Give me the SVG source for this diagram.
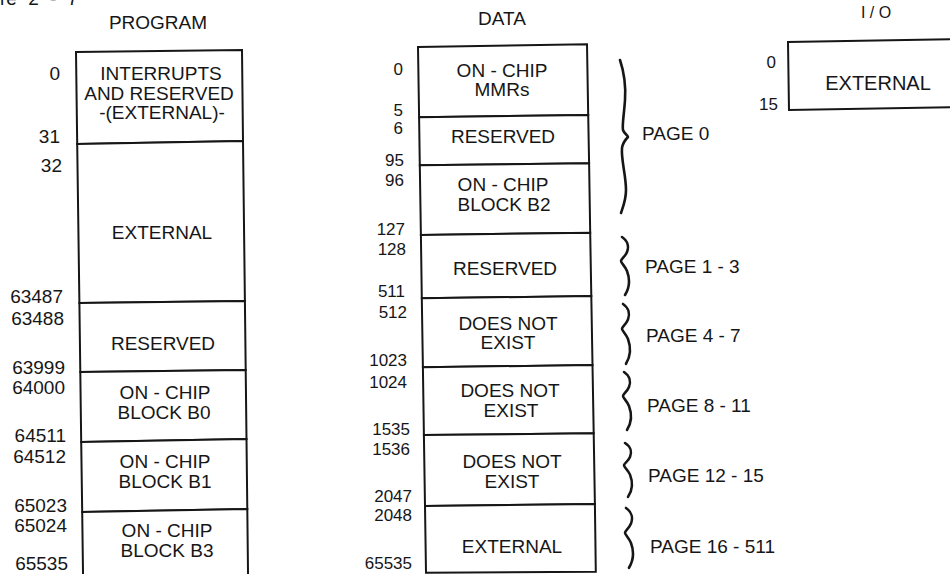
<svg xmlns="http://www.w3.org/2000/svg" width="950" height="574" viewBox="0 0 950 574">
<style>
  text { font-family: "Liberation Sans", Arial, sans-serif; fill: #161616; }
  .t { font-size: 19px; text-anchor: middle; }
  .h { font-size: 19px; text-anchor: middle; }
  .pl { font-size: 19px; text-anchor: end; }
  .dl { font-size: 17px; text-anchor: end; }
  .pg { font-size: 19px; }
  .box { fill: #ffffff; stroke: #161616; stroke-width: 2; stroke-linejoin: miter; }
  .br { fill: none; stroke: #161616; stroke-width: 2.6; stroke-linecap: round; stroke-linejoin: round; }
</style>
<defs>
  <path id="sb" d="M0,0 C6,4 7,10 5,15 C3,20 -1,22 -1,24 C-1,26 3,29 5,34 C8,42 8,50 3,58"/>
</defs>
<rect x="0" y="0" width="950" height="574" fill="#ffffff"/>

<text x="0" y="5" font-size="19" word-spacing="6">re 2 - 7</text>

<!-- titles -->
<text class="h" x="158" y="29">PROGRAM</text>
<text class="h" x="502" y="25">DATA</text>
<text class="h" x="876" y="18" style="font-size:16px">I / O</text>

<!-- PROGRAM column -->
<g id="prog-interrupts">
  <polygon class="box" points="76,52 242,50 243,141 77.2,144"/>
  <text class="t" x="161" y="80">INTERRUPTS</text>
  <text class="t" x="159" y="100">AND RESERVED</text>
  <text class="t" x="162" y="119">-(EXTERNAL)-</text>
</g>
<g id="prog-external">
  <polygon class="box" points="77.2,144 243,141 244.9,301 79.4,303"/>
  <text class="t" x="162" y="239">EXTERNAL</text>
</g>
<g id="prog-reserved">
  <polygon class="box" points="79.4,303 244.9,301 245.7,370 80.3,372"/>
  <text class="t" x="163" y="350">RESERVED</text>
</g>
<g id="prog-b0">
  <polygon class="box" points="80.3,372 245.7,370 246.5,439 81.2,442"/>
  <text class="t" x="165" y="399">ON - CHIP</text>
  <text class="t" x="164" y="419">BLOCK B0</text>
</g>
<g id="prog-b1">
  <polygon class="box" points="81.2,442 246.5,439 247.3,509 82.2,512"/>
  <text class="t" x="165" y="468">ON - CHIP</text>
  <text class="t" x="165" y="488">BLOCK B1</text>
</g>
<g id="prog-b3">
  <polyline class="box" points="83.1,580 82.2,512 247.3,509 248.1,580"/>
  <text class="t" x="167" y="537">ON - CHIP</text>
  <text class="t" x="167" y="557">BLOCK B3</text>
</g>
<g id="prog-labels">
  <text class="pl" x="60" y="80">0</text>
  <text class="pl" x="60" y="143">31</text>
  <text class="pl" x="62" y="172">32</text>
  <text class="pl" x="63" y="303">63487</text>
  <text class="pl" x="64" y="325">63488</text>
  <text class="pl" x="65" y="374">63999</text>
  <text class="pl" x="65" y="394">64000</text>
  <text class="pl" x="66" y="442">64511</text>
  <text class="pl" x="66" y="463">64512</text>
  <text class="pl" x="67" y="512">65023</text>
  <text class="pl" x="67" y="532">65024</text>
  <text class="pl" x="68" y="570">65535</text>
</g>

<!-- DATA column -->
<g id="data-mmrs">
  <polygon class="box" points="418,47 587,44.3 588.2,115 419.1,117.3"/>
  <text class="t" x="502" y="77">ON - CHIP</text>
  <text class="t" x="502" y="96">MMRs</text>
</g>
<g id="data-reserved0">
  <polygon class="box" points="419.1,117.3 588.2,115 589.1,163.3 419.8,165.3"/>
  <text class="t" x="503" y="143">RESERVED</text>
</g>
<g id="data-b2">
  <polygon class="box" points="419.8,165.3 589.1,163.3 590.2,232.7 420.9,235"/>
  <text class="t" x="503" y="191">ON - CHIP</text>
  <text class="t" x="504" y="211">BLOCK B2</text>
</g>
<g id="data-reserved1">
  <polygon class="box" points="420.9,235 590.2,232.7 591.3,296 421.8,298.3"/>
  <text class="t" x="505" y="275">RESERVED</text>
</g>
<g id="data-dne1">
  <polygon class="box" points="421.8,298.3 591.3,296 592.5,365 422.9,367.3"/>
  <text class="t" x="508" y="330">DOES NOT</text>
  <text class="t" x="508" y="349">EXIST</text>
</g>
<g id="data-dne2">
  <polygon class="box" points="422.9,367.3 592.5,365 593.7,433.3 423.9,435"/>
  <text class="t" x="510" y="397">DOES NOT</text>
  <text class="t" x="511" y="417">EXIST</text>
</g>
<g id="data-dne3">
  <polygon class="box" points="423.9,435 593.7,433.3 594.9,504 425,506"/>
  <text class="t" x="512" y="468">DOES NOT</text>
  <text class="t" x="512" y="488">EXIST</text>
</g>
<g id="data-external">
  <polygon class="box" points="425,506 594.9,504 595.8,571.7 426,572.7"/>
  <text class="t" x="512" y="553">EXTERNAL</text>
</g>
<g id="data-labels">
  <text class="dl" x="403" y="116">5</text>
  <text class="dl" x="403" y="75">0</text>
  <text class="dl" x="403" y="134">6</text>
  <text class="dl" x="404" y="166">95</text>
  <text class="dl" x="404" y="186">96</text>
  <text class="dl" x="405" y="235">127</text>
  <text class="dl" x="406" y="255">128</text>
  <text class="dl" x="405" y="297">511</text>
  <text class="dl" x="407" y="318">512</text>
  <text class="dl" x="407" y="366">1023</text>
  <text class="dl" x="407" y="388">1024</text>
  <text class="dl" x="410" y="435">1535</text>
  <text class="dl" x="410" y="455">1536</text>
  <text class="dl" x="412" y="502">2047</text>
  <text class="dl" x="412" y="521">2048</text>
  <text class="dl" x="412" y="569">65535</text>
</g>

<!-- page braces -->
<g id="connectors">
  <path class="br" d="M620,60 C624,72 626,85 625,100 C624,115 622,125 623,130 C624,133 627,135 628,137 C626,139 623,142 622,148 C621,160 626,175 626,190 C626,200 623,207 621,213"/>
  <use href="#sb" class="br" transform="translate(622,237)"/>
  <use href="#sb" class="br" transform="translate(623,304) scale(1,1.03)"/>
  <use href="#sb" class="br" transform="translate(624,372)"/>
  <use href="#sb" class="br" transform="translate(625,443) scale(1,0.93)"/>
  <use href="#sb" class="br" transform="translate(626,508) scale(1,1.03)"/>
</g>
<g id="page-labels">
  <text class="pg" x="642" y="140">PAGE 0</text>
  <text class="pg" x="645" y="273">PAGE 1 - 3</text>
  <text class="pg" x="646" y="342">PAGE 4 - 7</text>
  <text class="pg" x="647" y="412">PAGE 8 - 11</text>
  <text class="pg" x="648" y="482">PAGE 12 - 15</text>
  <text class="pg" x="650" y="553">PAGE 16 - 511</text>
</g>

<!-- I/O -->
<g id="io-external">
  <polyline class="box" points="960,39 788,42 789,110 960,107"/>
  <text class="t" x="878" y="90" style="font-size:20px">EXTERNAL</text>
</g>
<g id="io-labels">
  <text class="dl" x="776" y="68">0</text>
  <text class="dl" x="778" y="110">15</text>
</g>
</svg>
